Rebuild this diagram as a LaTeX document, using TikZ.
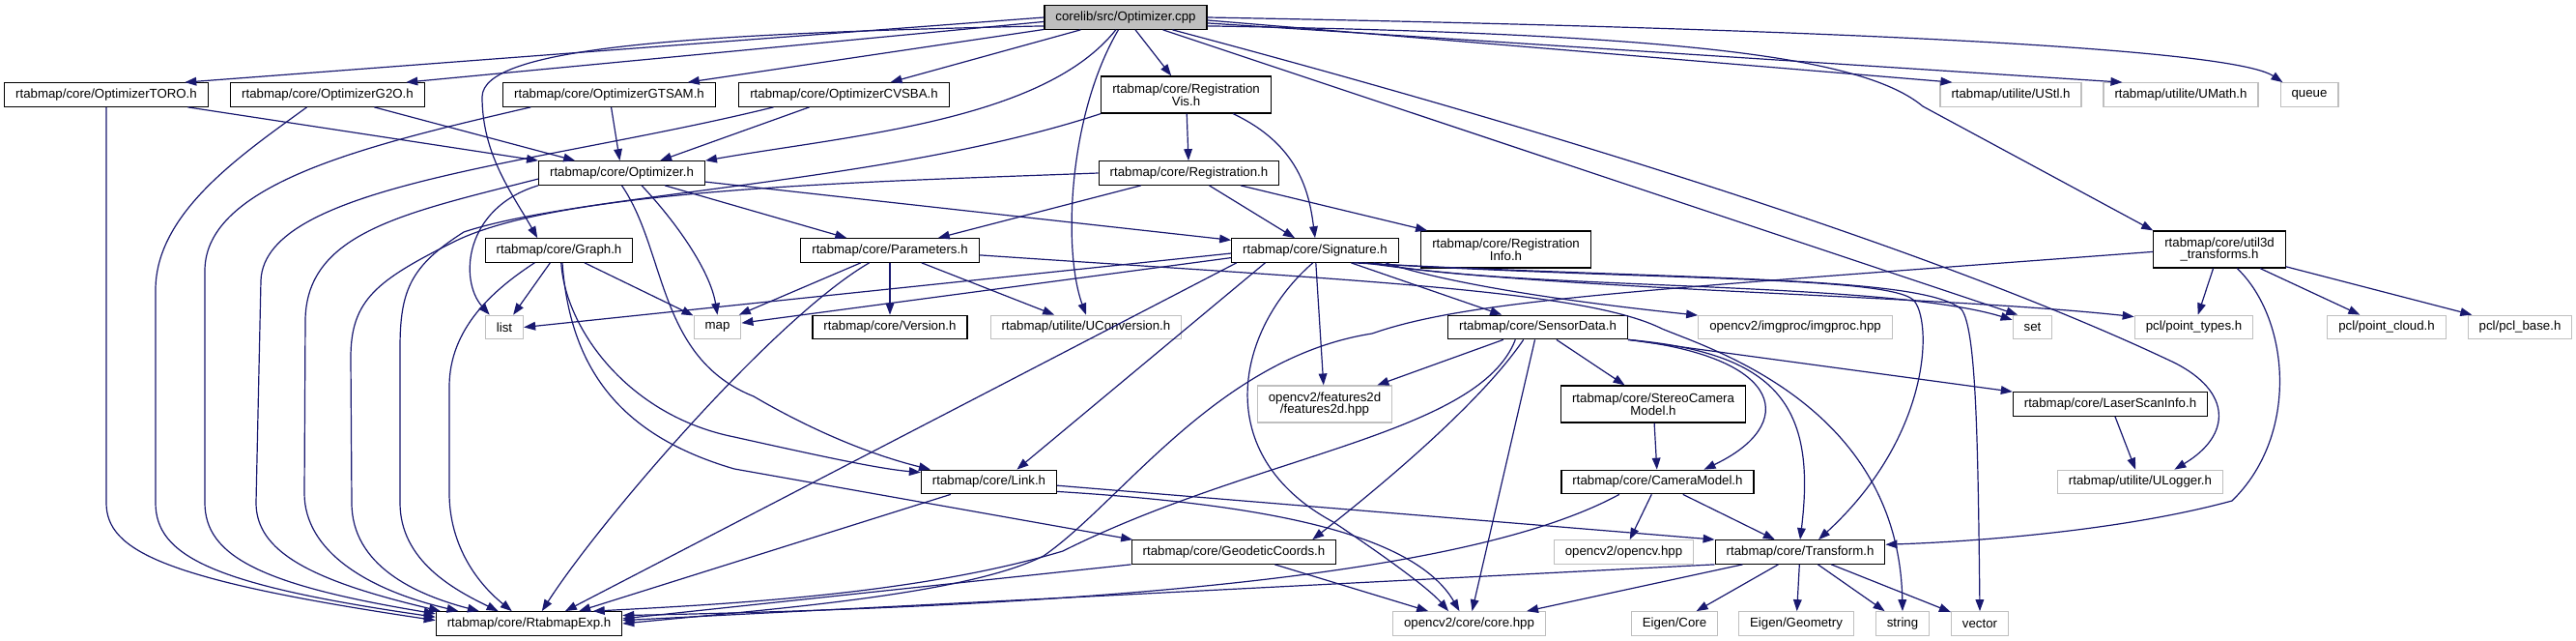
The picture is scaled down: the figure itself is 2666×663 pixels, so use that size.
\documentclass[tikz,border=0pt]{standalone}
\usepackage{fontspec}
\setmainfont{Liberation Sans}
\usepackage{xcolor}
\usepackage{tikz}
\usetikzlibrary{arrows.meta}
\definecolor{edgeblue}{HTML}{191970}
\definecolor{sysgray}{HTML}{BFBFBF}

\begin{document}
\begin{tikzpicture}[x=0.75pt,y=-0.75pt,line width=0.9pt,
    hdr/.style={draw=black,fill=white,inner xsep=8.6pt,inner ysep=2pt,minimum height=18.4pt,align=center,font=\fontsize{9.94}{9.5}\selectfont},
    sys/.style={hdr,draw=sysgray},
    src/.style={hdr,fill=sysgray},
    tall/.style={minimum height=28.5pt},
    dep/.style={draw=edgeblue,-{Triangle[length=9pt,width=6.5pt]}}]
    \fill[white] (0,0) rectangle (2666,663);
    \useasboundingbox (0,0) rectangle (2666,663);

    \node[src] (cpp) at (1165,18) {corelib/src/Optimizer.cpp};
    \node[hdr] (toro) at (110,98) {rtabmap/core/OptimizerTORO.h};
    \node[hdr] (g2o) at (339,98) {rtabmap/core/OptimizerG2O.h};
    \node[hdr] (gtsam) at (630.5,98) {rtabmap/core/OptimizerGTSAM.h};
    \node[hdr] (cvsba) at (873.5,98) {rtabmap/core/OptimizerCVSBA.h};
    \node[hdr,tall] (regvis) at (1227.5,98) {rtabmap/core/Registration\\Vis.h};
    \node[sys] (ustl) at (2081,98) {rtabmap/utilite/UStl.h};
    \node[sys] (umath) at (2257,98) {rtabmap/utilite/UMath.h};
    \node[sys] (queue) at (2390,98) {queue};
    \node[hdr] (optimizer) at (643.5,179) {rtabmap/core/Optimizer.h};
    \node[hdr] (registration) at (1230.5,179) {rtabmap/core/Registration.h};
    \node[hdr] (graph) at (578.5,259) {rtabmap/core/Graph.h};
    \node[hdr] (parameters) at (921,259) {rtabmap/core/Parameters.h};
    \node[hdr] (signature) at (1361,259) {rtabmap/core/Signature.h};
    \node[hdr,tall] (reginfo) at (1558.5,258) {rtabmap/core/Registration\\Info.h};
    \node[hdr,tall] (util3d) at (2297,258) {rtabmap/core/util3d\\\_transforms.h};
    \node[sys] (list) at (522,338.5) {list};
    \node[sys] (map) at (742.5,338.5) {map};
    \node[hdr] (version) at (921,338.5) {rtabmap/core/Version.h};
    \node[sys] (uconv) at (1124,338.5) {rtabmap/utilite/UConversion.h};
    \node[hdr] (sensordata) at (1591.5,338.5) {rtabmap/core/SensorData.h};
    \node[sys] (imgproc) at (1858,338.5) {opencv2/imgproc/imgproc.hpp};
    \node[sys] (set) at (2103.5,338.5) {set};
    \node[sys] (pointtypes) at (2270.5,338.5) {pcl/point\_types.h};
    \node[sys] (pointcloud) at (2470,338.5) {pcl/point\_cloud.h};
    \node[sys] (pclbase) at (2608,338.5) {pcl/pcl\_base.h};
    \node[sys,tall] (features) at (1371,418) {opencv2/features2d\\/features2d.hpp};
    \node[hdr,tall] (stereo) at (1711,418) {rtabmap/core/StereoCamera\\Model.h};
    \node[hdr] (laserscan) at (2184,418) {rtabmap/core/LaserScanInfo.h};
    \node[hdr] (link) at (1023.5,498.5) {rtabmap/core/Link.h};
    \node[hdr] (camera) at (1715.5,498.5) {rtabmap/core/CameraModel.h};
    \node[sys] (ulogger) at (2215,498.5) {rtabmap/utilite/ULogger.h};
    \node[hdr] (geodetic) at (1277,571) {rtabmap/core/GeodeticCoords.h};
    \node[sys] (opencv) at (1680.5,571) {opencv2/opencv.hpp};
    \node[hdr] (transform) at (1863,571) {rtabmap/core/Transform.h};
    \node[hdr] (rtabmapexp) at (547.5,645) {rtabmap/core/RtabmapExp.h};
    \node[sys] (corehpp) at (1520.5,645) {opencv2/core/core.hpp};
    \node[sys] (eigencore) at (1733,645) {Eigen/Core};
    \node[sys] (eigengeom) at (1859,645) {Eigen/Geometry};
    \node[sys] (string) at (1969,645) {string};
    \node[sys] (vector) at (2049,645) {vector};

    \draw[dep] (cpp.180) -- (toro.9);
    \draw[dep] (cpp.183) -- (g2o.9);
    \draw[dep] (cpp) -- (gtsam.9);
    \draw[dep] (cpp) -- (cvsba.15);
    \draw[dep] (cpp) .. controls (1080,125) and (880,140) .. (optimizer.north east);
    \draw[dep] (cpp.186) .. controls (700,35) and (500,50) .. (499,100) .. controls (499,160) and (530,200) .. (graph.150);
    \draw[dep] (cpp) -- (regvis);
    \draw[dep] (cpp) .. controls (1105,120) and (1100,260) .. (uconv.north);
    \draw[dep] (cpp.-6) .. controls (1750,35) and (1930,60) .. (1990,110) -- (util3d.north west);
    \draw[dep] (cpp.-2) -- (ustl.168);
    \draw[dep] (cpp.-4) -- (umath.168);
    \draw[dep] (cpp.0) .. controls (1900,30) and (2310,50) .. (queue.155);
    \draw[dep] (cpp) -- (set.140);
    \draw[dep] (cpp) .. controls (1700,160) and (2050,280) .. (2250,375) .. controls (2310,405) and (2310,450) .. (ulogger.20);

    \draw[dep] (toro) -- (optimizer.north west);
    \draw[dep] (toro.south) -- (110,520) .. controls (110,570) and (170,600) .. (rtabmapexp.178);
    \draw[dep] (g2o) -- (optimizer);
    \draw[dep] (g2o.211) .. controls (250,160) and (161,220) .. (161,300) -- (161,520) .. controls (161,575) and (220,605) .. (rtabmapexp.176);
    \draw[dep] (gtsam) -- (optimizer);
    \draw[dep] (gtsam.189) .. controls (380,150) and (212,190) .. (212,280) -- (212,520) .. controls (212,575) and (270,605) .. (rtabmapexp.174);
    \draw[dep] (cvsba) -- (optimizer.18);
    \draw[dep] (cvsba.190) .. controls (560,170) and (274,190) .. (270,290) -- (265,520) .. controls (265,570) and (320,600) .. (rtabmapexp.172);

    \draw[dep] (optimizer.south west) .. controls (480,215) and (475,290) .. (list.140);
    \draw[dep] (optimizer.184) .. controls (420,220) and (318,240) .. (316,330) -- (315,510) .. controls (315,570) and (380,610) .. (rtabmapexp.170);
    \draw[dep] (optimizer.-32) .. controls (700,230) and (735,280) .. (map.north);
    \draw[dep] (optimizer.south) .. controls (690,260) and (680,370) .. (780,410) .. controls (840,445) and (900,470) .. (link.168);
    \draw[dep] (optimizer) -- (parameters);
    \draw[dep] (optimizer.-6) -- (signature.173);

    \draw[dep] (regvis) -- (registration);
    \draw[dep] (regvis.-22) .. controls (1345,150) and (1355,200) .. (signature.north);
    \draw[dep] (regvis.south west) .. controls (920,190) and (600,200) .. (480,240) .. controls (425,275) and (414,300) .. (414,360) -- (414,520) .. controls (414,580) and (470,610) .. (rtabmapexp.158);
    \draw[dep] (registration) -- (parameters);
    \draw[dep] (registration) -- (signature);
    \draw[dep] (registration) -- (reginfo);
    \draw[dep] (registration.west) .. controls (900,188) and (580,195) .. (470,250) .. controls (390,290) and (363,310) .. (363,370) -- (364,520) .. controls (364,585) and (430,615) .. (rtabmapexp.166);

    \draw[dep] (graph) -- (list);
    \draw[dep] (graph) -- (map);
    \draw[dep] (graph.207) .. controls (510,300) and (465,340) .. (465,400) -- (465,510) .. controls (465,560) and (490,600) .. (rtabmapexp.144);
    \draw[dep] (graph.-80) .. controls (585,340) and (650,430) .. (760,452) .. controls (850,472) and (910,485) .. (link.172);
    \draw[dep] (graph.-75) .. controls (590,380) and (640,450) .. (760,485) -- (geodetic.173);

    \draw[dep] (parameters) -- (map.30);
    \draw[dep] (parameters) -- (version);
    \draw[dep] (parameters) -- (uconv);
    \draw[dep] (parameters.211) .. controls (800,330) and (620,540) .. (rtabmapexp.44);
    \draw[dep] (parameters.-3) .. controls (1400,290) and (1640,300) .. (1720,340) .. controls (1770,361) and (1965,420) .. (string.north);

    \draw[dep] (signature.182) -- (list.east);
    \draw[dep] (signature.185) -- (map.10);
    \draw[dep] (signature.189) -- (rtabmapexp.19);
    \draw[dep] (signature.194) -- (link.24);
    \draw[dep] (signature) -- (features);
    \draw[dep] (signature.-100) .. controls (1280,340) and (1250,470) .. (1380,540) .. controls (1440,580) and (1480,610) .. (corehpp.149);
    \draw[dep] (signature) -- (sensordata);
    \draw[dep] (signature.-10) .. controls (1520,300) and (1680,318) .. (imgproc.173);
    \draw[dep] (signature.-12) .. controls (1560,300) and (1950,290) .. (set.160);
    \draw[dep] (signature.-14) .. controls (1600,300) and (2000,305) .. (pointtypes.170);
    \draw[dep] (signature.-16) .. controls (1700,290) and (1950,285) .. (1980,310) .. controls (2000,330) and (2000,450) .. (transform.34);
    \draw[dep] (signature.-18) .. controls (1750,290) and (1990,285) .. (2030,320) .. controls (2045,340) and (2047,450) .. (vector.north);

    \draw[dep] (sensordata) -- (features);
    \draw[dep] (sensordata) -- (stereo);
    \draw[dep] (sensordata.south east) .. controls (1850,370) and (1860,440) .. (camera.15);
    \draw[dep] (sensordata.south east) .. controls (1840,365) and (1880,420) .. (transform.north);
    \draw[dep] (sensordata.south east) -- (laserscan.north west);
    \draw[dep] (sensordata) -- (corehpp);
    \draw[dep] (sensordata.-139) .. controls (1530,420) and (1420,510) .. (geodetic.9);
    \draw[dep] (sensordata.-151) .. controls (1530,450) and (1300,470) .. (1100,570) .. controls (950,615) and (750,625) .. (rtabmapexp.11);

    \draw[dep] (stereo) -- (camera);
    \draw[dep] (camera) -- (opencv);
    \draw[dep] (camera) -- (transform);
    \draw[dep] (camera.198) .. controls (1550,580) and (1250,625) .. (rtabmapexp.5);
    \draw[dep] (link.-3) -- (transform.north west);
    \draw[dep] (link.-8) .. controls (1280,520) and (1460,545) .. (corehpp.128);
    \draw[dep] (link.198) -- (rtabmapexp.14);
    \draw[dep] (geodetic) -- (corehpp);
    \draw[dep] (geodetic.south west) -- (rtabmapexp.3);
    \draw[dep] (transform) -- (corehpp);
    \draw[dep] (transform) -- (eigencore);
    \draw[dep] (transform) -- (eigengeom);
    \draw[dep] (transform) -- (string);
    \draw[dep] (transform) -- (vector);
    \draw[dep] (transform.south west) -- (rtabmapexp.2);
    \draw[dep] (laserscan) -- (ulogger);

    \draw[dep] (util3d) -- (pointtypes);
    \draw[dep] (util3d) -- (pointcloud);
    \draw[dep] (util3d) -- (pclbase);
    \draw[dep] (util3d.-47) .. controls (2370,330) and (2380,450) .. (2310,518) .. controls (2200,548) and (2050,560) .. (transform.5);
    \draw[dep] (util3d.182) .. controls (1700,300) and (1520,310) .. (1420,345) .. controls (1260,370) and (1160,520) .. (1080,575) .. controls (1000,615) and (800,630) .. (rtabmapexp.0);
\end{tikzpicture}
\end{document}
